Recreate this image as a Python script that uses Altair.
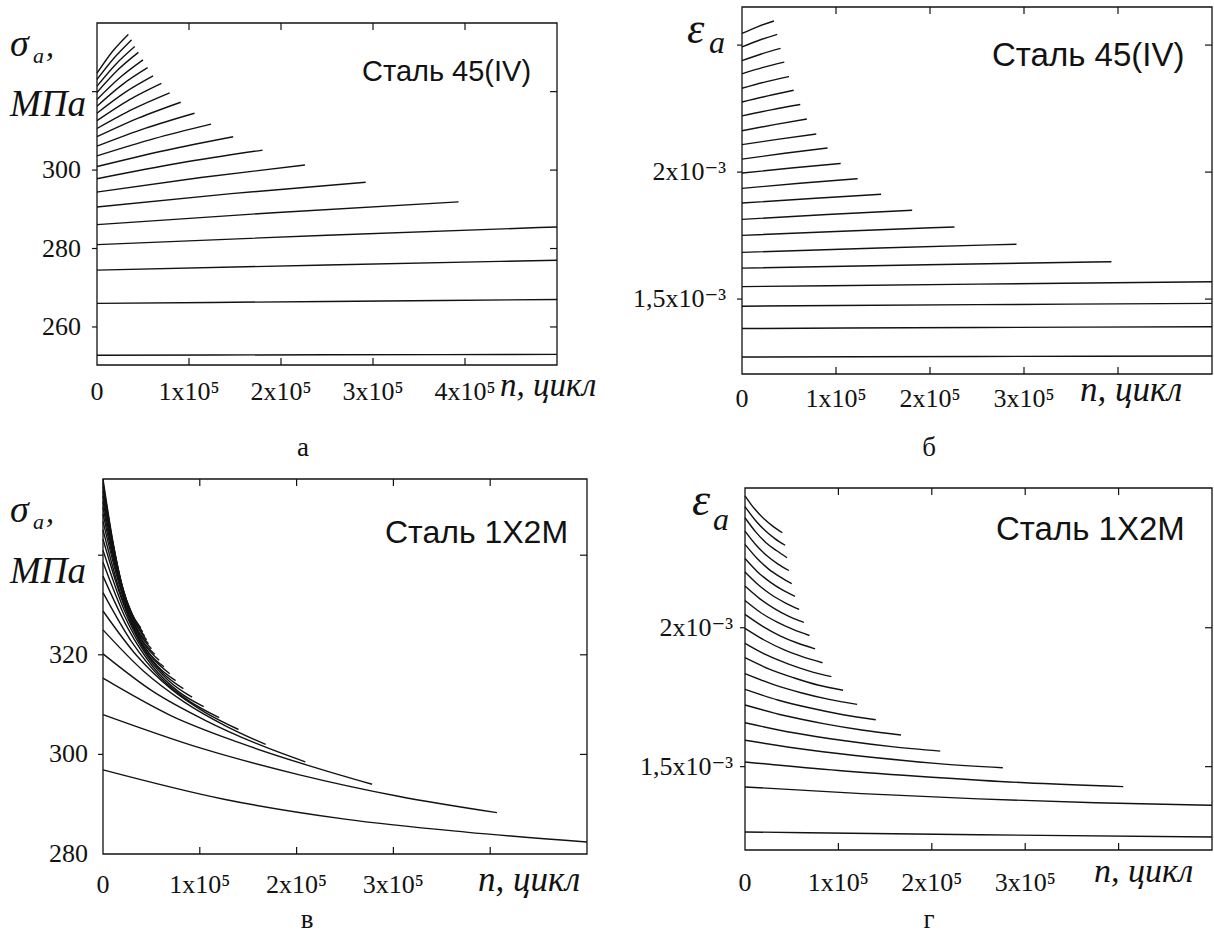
import altair as alt
import pandas as pd

# ------------------------------------------------------------------
# DATA  (x = number of cycles n in units of 1e5; eps values in units of 1e-3)
# ------------------------------------------------------------------
# panel a : sigma_a, MPa  (Сталь 45(IV))
a_x = [
    [0, 2.5, 5.0], [0, 2.5, 5.0], [0, 2.5, 5.0], [0, 2.5, 5.0],
    [0, 1.965, 3.93], [0, 1.46, 2.92], [0, 1.13, 2.26], [0, 0.90, 1.80],
    [0, 0.74, 1.48], [0, 0.62, 1.24], [0, 0.53, 1.06], [0, 0.455, 0.91],
    [0, 0.395, 0.79], [0, 0.35, 0.70], [0, 0.305, 0.61], [0, 0.275, 0.55],
    [0, 0.25, 0.50], [0, 0.225, 0.45], [0, 0.205, 0.41], [0, 0.19, 0.375],
    [0, 0.17, 0.34],
]
a_y = [
    [252.8, 252.9, 253.0], [266.0, 266.5, 267.0], [274.5, 275.8, 277.0], [281.0, 283.4, 285.5],
    [286.1, 289.2, 291.9], [290.6, 294.0, 296.9], [294.4, 298.1, 301.3], [297.8, 301.8, 305.1],
    [300.9, 305.0, 308.5], [303.6, 308.0, 311.7], [306.1, 310.7, 314.5], [308.5, 313.3, 317.3],
    [310.6, 315.6, 319.7], [312.6, 317.9, 322.1], [314.5, 319.8, 324.0], [316.3, 321.8, 326.1],
    [318.0, 323.6, 328.1], [319.8, 325.5, 330.0], [321.4, 327.0, 331.5], [323.1, 328.7, 333.2],
    [324.7, 330.3, 334.6],
]

# panel b : eps_a (x1e-3)  (Сталь 45(IV))
b_x = [
    [0, 2.5, 5.0], [0, 2.5, 5.0], [0, 2.5, 5.0], [0, 2.5, 5.0],
    [0, 1.965, 3.93], [0, 1.46, 2.92], [0, 1.13, 2.26], [0, 0.905, 1.81],
    [0, 0.74, 1.48], [0, 0.615, 1.23], [0, 0.525, 1.05], [0, 0.455, 0.91],
    [0, 0.395, 0.79], [0, 0.345, 0.69], [0, 0.31, 0.62], [0, 0.275, 0.55],
    [0, 0.25, 0.50], [0, 0.225, 0.45], [0, 0.205, 0.41], [0, 0.19, 0.375],
    [0, 0.17, 0.34],
]
b_y = [
    [1.272, 1.274, 1.276], [1.384, 1.388, 1.391], [1.472, 1.478, 1.483], [1.549, 1.559, 1.568],
    [1.622, 1.635, 1.647], [1.684, 1.701, 1.716], [1.751, 1.768, 1.784], [1.814, 1.833, 1.850],
    [1.878, 1.896, 1.913], [1.936, 1.956, 1.974], [1.996, 2.016, 2.034], [2.051, 2.074, 2.095],
    [2.108, 2.130, 2.150], [2.163, 2.187, 2.209], [2.221, 2.245, 2.266], [2.276, 2.300, 2.322],
    [2.330, 2.355, 2.376], [2.387, 2.412, 2.433], [2.439, 2.465, 2.487], [2.493, 2.520, 2.542],
    [2.546, 2.573, 2.595],
]

# panel c : sigma_a, MPa  (Сталь 1Х2М)
c_x = [
    [0, 1.25, 2.5, 3.75, 5.0], [0, 1.02, 2.03, 3.05, 4.07], [0, 0.7, 1.4, 2.1, 2.78],
    [0, 0.52, 1.05, 1.57, 2.09], [0, 0.42, 0.84, 1.26, 1.68], [0, 0.35, 0.70, 1.05, 1.40],
    [0, 0.30, 0.60, 0.90, 1.20], [0, 0.26, 0.52, 0.78, 1.04], [0, 0.23, 0.46, 0.69, 0.92],
    [0, 0.21, 0.42, 0.62, 0.83], [0, 0.19, 0.38, 0.56, 0.75], [0, 0.17, 0.345, 0.52, 0.69],
    [0, 0.16, 0.315, 0.47, 0.63], [0, 0.145, 0.29, 0.435, 0.58], [0, 0.135, 0.27, 0.40, 0.535],
    [0, 0.125, 0.25, 0.375, 0.50], [0, 0.118, 0.235, 0.35, 0.47], [0, 0.112, 0.225, 0.34, 0.45],
    [0, 0.108, 0.215, 0.32, 0.43], [0, 0.102, 0.205, 0.31, 0.41], [0, 0.098, 0.195, 0.29, 0.39],
]
c_y = [
    [296.9, 291.0, 287.0, 284.4, 282.4], [308.0, 301.2, 295.9, 291.6, 288.3],
    [315.3, 307.8, 302.4, 297.9, 294.0], [320.2, 312.6, 306.9, 302.3, 298.5],
    [325.0, 316.7, 310.5, 305.8, 302.0], [328.8, 319.8, 313.2, 308.5, 305.0],
    [332.5, 322.5, 315.3, 310.6, 307.4], [335.8, 325.2, 317.5, 312.6, 309.6],
    [338.6, 327.5, 319.6, 314.6, 311.5], [341.0, 329.4, 321.2, 316.3, 313.2],
    [343.2, 331.3, 322.7, 317.8, 314.8], [345.1, 333.0, 324.2, 319.2, 316.2],
    [346.8, 334.6, 325.6, 320.5, 317.6], [348.3, 336.2, 327.0, 321.9, 318.9],
    [349.6, 337.5, 328.3, 323.1, 320.1], [350.8, 338.6, 329.5, 324.3, 321.2],
    [351.9, 339.7, 330.6, 325.3, 322.2], [352.9, 340.8, 331.6, 326.2, 323.0],
    [353.8, 341.7, 332.5, 327.0, 323.8], [354.6, 342.5, 333.3, 327.8, 324.6],
    [355.3, 343.2, 334.1, 328.6, 325.4],
]

# panel d : eps_a (x1e-3)  (Сталь 1Х2М)
d_x = [
    [0, 2.5, 5.0], [0, 1.25, 2.5, 3.75, 5.0], [0, 1.0, 2.0, 3.0, 4.05],
    [0, 0.69, 1.38, 2.07, 2.76], [0, 0.52, 1.05, 1.57, 2.09], [0, 0.42, 0.84, 1.25, 1.67],
    [0, 0.35, 0.70, 1.05, 1.40], [0, 0.30, 0.60, 0.90, 1.20], [0, 0.26, 0.52, 0.79, 1.05],
    [0, 0.23, 0.46, 0.69, 0.925], [0, 0.21, 0.415, 0.62, 0.83], [0, 0.19, 0.375, 0.56, 0.75],
    [0, 0.17, 0.345, 0.52, 0.69], [0, 0.16, 0.315, 0.47, 0.63], [0, 0.145, 0.29, 0.435, 0.58],
    [0, 0.135, 0.27, 0.40, 0.535], [0, 0.125, 0.25, 0.375, 0.50], [0, 0.118, 0.235, 0.35, 0.47],
    [0, 0.112, 0.225, 0.34, 0.45], [0, 0.108, 0.215, 0.32, 0.43], [0, 0.10, 0.20, 0.30, 0.40],
]
d_y = [
    [1.265, 1.255, 1.247], [1.427, 1.403, 1.384, 1.370, 1.361], [1.517, 1.486, 1.462, 1.442, 1.428],
    [1.595, 1.560, 1.533, 1.511, 1.496], [1.658, 1.622, 1.594, 1.572, 1.556],
    [1.722, 1.684, 1.655, 1.632, 1.614], [1.778, 1.740, 1.711, 1.687, 1.669],
    [1.835, 1.796, 1.766, 1.742, 1.724], [1.892, 1.851, 1.820, 1.793, 1.775],
    [1.944, 1.902, 1.870, 1.844, 1.824], [1.998, 1.955, 1.921, 1.895, 1.874],
    [2.048, 2.005, 1.971, 1.945, 1.924], [2.098, 2.054, 2.020, 1.993, 1.972],
    [2.150, 2.104, 2.069, 2.041, 2.019], [2.201, 2.154, 2.117, 2.089, 2.066],
    [2.249, 2.201, 2.164, 2.136, 2.113], [2.300, 2.251, 2.212, 2.183, 2.159],
    [2.348, 2.298, 2.259, 2.230, 2.206], [2.396, 2.346, 2.306, 2.277, 2.252],
    [2.436, 2.388, 2.350, 2.321, 2.297], [2.475, 2.429, 2.393, 2.365, 2.342],
]

# axis domains, ticks and tick labels
a_xdomain, a_ydomain = [0, 5], [250.3, 337.5]
b_xdomain, b_ydomain = [0, 5], [1.205, 2.65]
c_xdomain, c_ydomain = [0, 5], [280.0, 355.3]
d_xdomain, d_ydomain = [0, 5], [1.20, 2.503]

x_ticks = [1, 2, 3, 4]
a_yticks = [260, 280, 300, 320]
b_yticks = [1.5, 2.0, 2.5]
c_yticks = [300, 320, 340]
d_yticks = [1.5, 2.0]

a_xlabel_vals = [0, 1, 2, 3, 4]
a_xlabels = ["0", "1x10⁵", "2x10⁵", "3x10⁵", "4x10⁵"]
bcd_xlabel_vals = [0, 1, 2, 3]
bcd_xlabels = ["0", "1x10⁵", "2x10⁵", "3x10⁵"]
a_ylabel_vals = [260, 280, 300]
a_ylabels = ["260", "280", "300"]
c_ylabel_vals = [280, 300, 320]
c_ylabels = ["280", "300", "320"]
eps_ylabel_vals = [1.5, 2.0]
eps_ylabels = ["1,5x10⁻³", "2x10⁻³"]

# ------------------------------------------------------------------
SERIF = "Times New Roman, Liberation Serif, DejaVu Serif, serif"
SANS = "Arial, Liberation Sans, DejaVu Sans, sans-serif"
INK = "#121212"
ONE = pd.DataFrame({"k": [0]})


def curves_df(xs, ys):
    rows = []
    for i, (xl, yl) in enumerate(zip(xs, ys)):
        for j, (x, y) in enumerate(zip(xl, yl)):
            rows.append({"curve": i, "k": j, "n": x, "v": y})
    return pd.DataFrame(rows)


def panel(xs, ys, xdom, ydom, xrng, yrng, yticks, xl_vals, xl_txt, yl_vals, yl_txt, xl_dy, yl_dx):
    sx = alt.Scale(domain=xdom, range=xrng, nice=False, zero=False)
    sy = alt.Scale(domain=ydom, range=yrng, nice=False, zero=False)

    def X(f):
        return alt.X(f, type="quantitative", scale=sx, axis=None)

    def Y(f):
        return alt.Y(f, type="quantitative", scale=sy, axis=None)

    lines = alt.Chart(curves_df(xs, ys)).mark_line(
        color=INK, strokeWidth=1.4, interpolate="monotone"
    ).encode(x=X("n"), y=Y("v"), detail="curve:N", order="k:Q")

    frame_df = pd.DataFrame({"x0": [xdom[0]], "x1": [xdom[1]], "y0": [ydom[0]], "y1": [ydom[1]]})
    frame = alt.Chart(frame_df).mark_rect(
        fillOpacity=0, stroke=INK, strokeWidth=1.3
    ).encode(x=X("x0"), x2="x1", y=Y("y0"), y2="y1")

    xt = pd.DataFrame({"t": x_ticks, "y0": ydom[0], "y1": ydom[1]})
    bottom = alt.Chart(xt).mark_rule(color=INK, strokeWidth=1.2, y2Offset=-7).encode(
        x=X("t"), y=Y("y0"), y2="y0")
    top = alt.Chart(xt).mark_rule(color=INK, strokeWidth=1.2, y2Offset=7).encode(
        x=X("t"), y=Y("y1"), y2="y1")

    yt = pd.DataFrame({"t": yticks, "x0": xdom[0], "x1": xdom[1]})
    right = alt.Chart(yt).mark_rule(color=INK, strokeWidth=1.2, x2Offset=-7).encode(
        y=Y("t"), x=X("x1"), x2="x1")
    left = alt.Chart(yt).mark_rule(color=INK, strokeWidth=1.2, x2Offset=-5).encode(
        y=Y("t"), x=X("x0"), x2="x0")

    xlab = alt.Chart(pd.DataFrame({"t": xl_vals, "s": xl_txt, "y0": ydom[0]})).mark_text(
        font=SERIF, fontSize=26, dy=xl_dy, color=INK
    ).encode(x=X("t"), y=Y("y0"), text="s:N")
    ylab = alt.Chart(pd.DataFrame({"t": yl_vals, "s": yl_txt, "x0": xdom[0]})).mark_text(
        font=SERIF, fontSize=26, dx=yl_dx, align="right", color=INK
    ).encode(x=X("x0"), y=Y("t"), text="s:N")

    return alt.layer(frame, lines, bottom, top, right, left, xlab, ylab)


def txt(s, x, y, size, font=SERIF, italic=False, align="left"):
    return alt.Chart(ONE).mark_text(
        text=s, font=font, fontSize=size, fontStyle="italic" if italic else "normal",
        align=align, baseline="alphabetic", color=INK
    ).encode(x=alt.value(x), y=alt.value(y))


pa = panel(a_x, a_y, a_xdomain, a_ydomain, [97, 557], [365, 23], a_yticks,
           a_xlabel_vals, a_xlabels, a_ylabel_vals, a_ylabels, 27, -16)
pb = panel(b_x, b_y, b_xdomain, b_ydomain, [742, 1212], [374, 7], b_yticks,
           bcd_xlabel_vals, bcd_xlabels, eps_ylabel_vals, eps_ylabels, 25, -16)
pc = panel(c_x, c_y, c_xdomain, c_ydomain, [103, 587], [854, 479], c_yticks,
           bcd_xlabel_vals, bcd_xlabels, c_ylabel_vals, c_ylabels, 31, -15)
pd_ = panel(d_x, d_y, d_xdomain, d_ydomain, [745, 1212], [850, 488], d_yticks,
            bcd_xlabel_vals, bcd_xlabels, eps_ylabel_vals, eps_ylabels, 33, -12)

annots = [
    # panel a
    txt("σ", 10, 56, 38, italic=True), txt("a", 33, 63, 22, italic=True), txt(",", 46, 56, 32, italic=True),
    txt("МПа", 10, 116, 37, italic=True),
    txt("Сталь 45(IV)", 362, 81, 29, font=SANS),
    txt("n, цикл", 500, 396, 33, italic=True),
    txt("а", 303, 456, 27, align="center"),
    # panel b
    txt("ε", 687, 43, 44, italic=True), txt("a", 709, 53, 32, italic=True),
    txt("Сталь 45(IV)", 992, 66, 33, font=SANS),
    txt("n, цикл", 1080, 401, 35, italic=True),
    txt("б", 929, 456, 27, align="center"),
    # panel c
    txt("σ", 10, 522, 38, italic=True), txt("a", 33, 529, 22, italic=True), txt(",", 46, 522, 32, italic=True),
    txt("МПа", 10, 583, 37, italic=True),
    txt("Сталь 1Х2М", 385, 543, 32, font=SANS),
    txt("n, цикл", 478, 891, 35, italic=True),
    txt("в", 307, 928, 27, align="center"),
    # panel d
    txt("ε", 692, 515, 46, italic=True), txt("a", 713, 530, 32, italic=True),
    txt("Сталь 1Х2М", 996, 540, 33, font=SANS),
    txt("n, цикл", 1094, 882, 34, italic=True),
    txt("г", 929, 928, 27, align="center"),
]

chart = alt.layer(pa, pb, pc, pd_, *annots).resolve_scale(
    x="independent", y="independent"
).properties(
    width=1214, height=935, padding=0,
    autosize=alt.AutoSizeParams(type="none"),
    background="white",
).configure_view(strokeWidth=0)

chart.save("out.html", embed_options={"renderer": "svg", "actions": False})
